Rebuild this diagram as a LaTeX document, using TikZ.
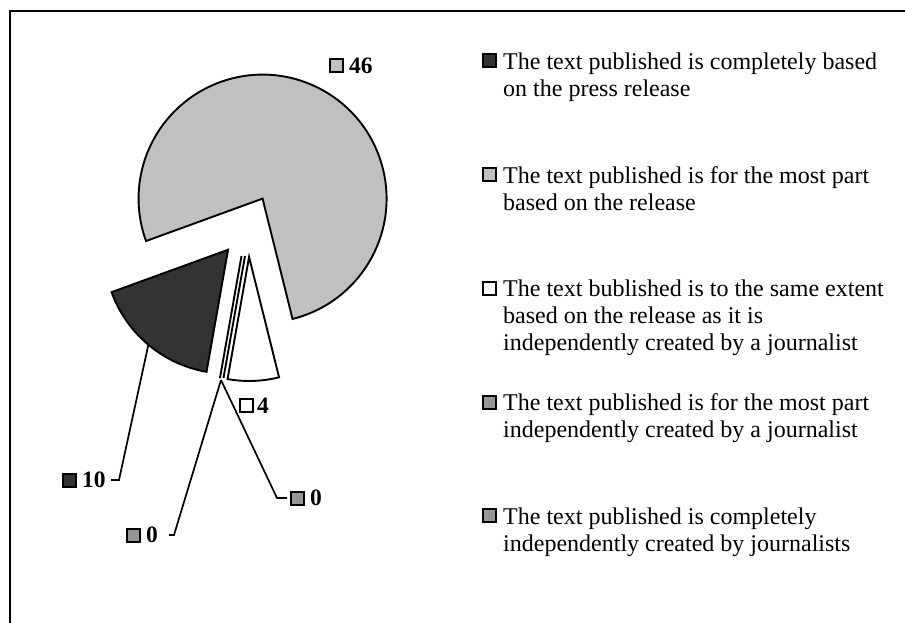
\documentclass[tikz,border=0pt]{standalone}
\usepackage{fontspec}
\setmainfont{Liberation Serif}
\usepackage{tikz}
\usetikzlibrary{positioning}

\definecolor{sliceDark}{RGB}{51,51,51}
\definecolor{sliceLight}{RGB}{192,192,192}
\definecolor{sliceMid}{RGB}{150,150,150}

\tikzset{
    slice/.style={draw, line width=1.9pt, line join=miter},
    leader/.style={draw, line width=1.7pt},
    keybox/.style={draw, line width=2pt, minimum size=13pt, inner sep=0pt},
    numlab/.style={font=\fontsize{23.5}{23.5}\selectfont\bfseries, inner sep=0pt},
    legtext/.style={font=\fontsize{24}{27}\selectfont, align=left,
        inner sep=0pt, anchor=north west}
}

\begin{document}
\begin{tikzpicture}[x=1pt, y=1pt]
    \useasboundingbox (0,0) rectangle (905,622);

    % chart frame, cut at right and bottom
    \draw[line width=2pt] (9.5,-20) -- (9.5,610.5) -- (930,610.5);

    \coordinate (ctr) at (248,396);
    \coordinate (lightApex) at ([shift={(62:31pt)}]ctr);
    \coordinate (darkApex) at ([shift={(230:31pt)}]ctr);
    \coordinate (whiteApex) at ([shift={(272:31pt)}]ctr);
    \coordinate (zeroApexA) at (241.5,366);
    \coordinate (zeroApexB) at (245,366);

    \filldraw[slice, fill=sliceLight] (lightApex) -- ++(-76:124pt)
        arc[start angle=-76, end angle=200, radius=124pt] -- cycle;
    \filldraw[slice, fill=sliceDark] (darkApex) -- ++(200:124pt)
        arc[start angle=200, end angle=260, radius=124pt] -- cycle;
    \filldraw[slice, fill=white] (whiteApex) -- ++(260:124pt)
        arc[start angle=260, end angle=284, radius=124pt] -- cycle;
    \draw[slice] (zeroApexA) -- ++(260:124pt);
    \draw[slice] (zeroApexB) -- ++(260:124pt);

    % data labels
    \node[numlab, anchor=west] (num46) at (349,556.5) {46};
    \node[keybox, fill=sliceLight, left=5pt of num46] (key46) {};
    \node[numlab, anchor=west] (num4) at (257,216.5) {4};
    \node[keybox, fill=white, left=3pt of num4] (key4) {};
    \node[numlab, anchor=west] (num10) at (82,142) {10};
    \node[keybox, fill=sliceDark, left=5pt of num10] (key10) {};
    \node[numlab, anchor=west] (numZeroA) at (146,87) {0};
    \node[keybox, fill=sliceMid, left=5pt of numZeroA] (keyZeroA) {};
    \node[numlab, anchor=west] (numZeroB) at (310,124) {0};
    \node[keybox, fill=sliceMid, left=5pt of numZeroB] (keyZeroB) {};

    % leader lines
    \coordinate (darkMid) at ([shift={(230:124pt)}]darkApex);
    \coordinate (zeroTip) at (221,242);
    \coordinate (knee10) at (119,142);
    \coordinate (tick10) at (111,142);
    \coordinate (kneeZeroA) at (174,87);
    \coordinate (tickZeroA) at (169,87);
    \coordinate (kneeZeroB) at (277,124);
    \coordinate (tickZeroB) at (287,124);
    \draw[leader] (darkMid) -- (knee10) -- (tick10);
    \draw[leader] (zeroTip) -- (kneeZeroA) -- (tickZeroA);
    \draw[leader] (zeroTip) -- (kneeZeroB) -- (tickZeroB);

    % legend
    \node[legtext] (leg1) at (503,569.4)
        {The text published is completely based\\on the press release};
    \node[keybox, fill=sliceDark] (legKey1) at (489.5,561) {};
    \node[legtext] (leg2) at (503,455.7)
        {The text published is for the most part\\based on the release};
    \node[keybox, fill=sliceLight] (legKey2) at (489.5,447.3) {};
    \node[legtext] (leg3) at (503,342)
        {The text bublished is to the same extent\\based on the release as it is\\independently created by a journalist};
    \node[keybox, fill=white] (legKey3) at (489.5,333.6) {};
    \node[legtext] (leg4) at (503,228.3)
        {The text published is for the most part\\independently created by a journalist};
    \node[keybox, fill=sliceMid] (legKey4) at (489.5,219.9) {};
    \node[legtext] (leg5) at (503,114.6)
        {The text published is completely\\independently created by journalists};
    \node[keybox, fill=sliceMid] (legKey5) at (489.5,106.2) {};
\end{tikzpicture}
\end{document}
